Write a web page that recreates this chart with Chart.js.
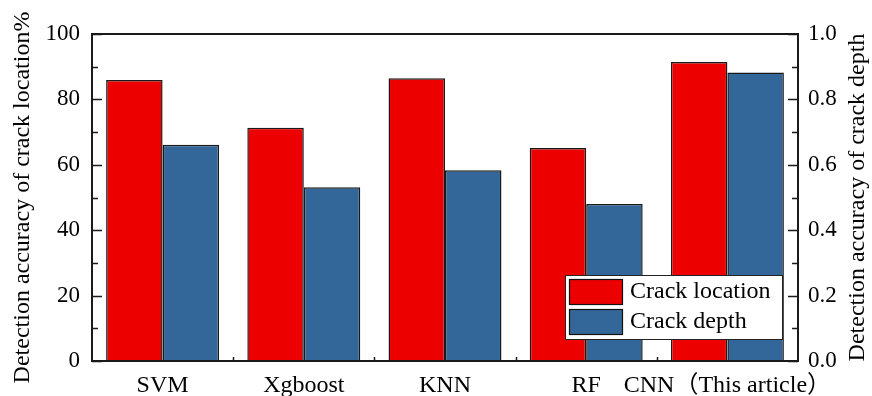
<!DOCTYPE html>
<html>
<head>
<meta charset="utf-8">
<script src="https://cdn.jsdelivr.net/npm/chart.js@4.4.1/dist/chart.umd.min.js"></script>
<style>
html,body{margin:0;padding:0;background:#fff;}
#wrap{width:872px;height:396px;position:relative;}
</style>
</head>
<body>
<div id="wrap"><canvas id="c" width="872" height="396"></canvas></div>
<script>
const categories = ["SVM", "Xgboost", "KNN", "RF", "CNN（This article）"];
const crackLocation = [85.9, 71.3, 86.5, 65.1, 91.4];
const crackDepth = [0.661, 0.531, 0.583, 0.480, 0.882];
const seriesNames = ["Crack location", "Crack depth"];
const leftTitle = "Detection accuracy of crack location%";
const rightTitle = "Detection accuracy of crack depth";

const FONT = "'Liberation Serif', 'Times New Roman', 'Noto Sans CJK SC', serif";
const RED = "rgb(236,0,0)";
const BLUE = "rgb(51,102,153)";

const framePlugin = {
  id: 'frame',
  afterDatasetsDraw(chart) {
    const ctx = chart.ctx;
    const a = chart.chartArea;
    const y = chart.scales.y, y1 = chart.scales.y1, x = chart.scales.x;
    ctx.save();
    ctx.strokeStyle = '#1a1a1a';
    ctx.lineWidth = 2;
    ctx.strokeRect(a.left, a.top, a.right - a.left, a.bottom - a.top);
    ctx.lineWidth = 1.5;
    ctx.beginPath();
    for (let v = 0; v <= 100; v += 10) {
      const p = Math.round(y.getPixelForValue(v)) + 0.5;
      const len = (v % 20 === 0) ? 10 : 6;
      ctx.moveTo(a.left, p); ctx.lineTo(a.left + len, p);
    }
    for (let k = 0; k <= 10; k++) {
      const p = Math.round(y1.getPixelForValue(k / 10)) + 0.5;
      const len = (k % 2 === 0) ? 10 : 6;
      ctx.moveTo(a.right, p); ctx.lineTo(a.right - len, p);
    }
    for (let i = 0; i < categories.length - 1; i++) {
      const p = Math.round((x.getPixelForValue(i) + x.getPixelForValue(i + 1)) / 2) + 0.5;
      ctx.moveTo(p, a.bottom); ctx.lineTo(p, a.bottom - 4);
    }
    ctx.stroke();

    // legend
    const lx = a.right - 233, ly = a.bottom - 86;
    ctx.fillStyle = '#fff';
    ctx.fillRect(lx, ly, 217, 64);
    ctx.lineWidth = 1;
    ctx.strokeStyle = '#222';
    ctx.strokeRect(lx + 0.5, ly + 0.5, 217, 64);
    chart.data.datasets.forEach((ds, i) => {
      const sy = ly + 4 + i * 30;
      ctx.fillStyle = ds.backgroundColor;
      ctx.fillRect(lx + 4, sy, 53, 25);
      ctx.strokeStyle = '#111';
      ctx.lineWidth = 1.2;
      ctx.strokeRect(lx + 4.5, sy + 0.5, 53, 25);
      ctx.fillStyle = '#000';
      ctx.font = '24px ' + FONT;
      ctx.textAlign = 'left';
      ctx.textBaseline = 'middle';
      ctx.fillText(ds.label, lx + 65, sy + 13);
    });

    // right title (reads bottom to top)
    ctx.save();
    ctx.translate(858, (a.top + a.bottom) / 2);
    ctx.rotate(-Math.PI / 2);
    ctx.font = '24px ' + FONT;
    ctx.fillStyle = '#000';
    ctx.textAlign = 'center';
    ctx.textBaseline = 'middle';
    ctx.fillText(rightTitle, 0, 0);
    ctx.restore();
    ctx.restore();
  }
};

new Chart(document.getElementById('c'), {
  type: 'bar',
  data: {
    labels: categories,
    datasets: [
      { label: seriesNames[0], data: crackLocation, yAxisID: 'y', backgroundColor: RED, borderColor: '#1a1a1a', borderWidth: 1.5, categoryPercentage: 0.8, barPercentage: 1.0 },
      { label: seriesNames[1], data: crackDepth, yAxisID: 'y1', backgroundColor: BLUE, borderColor: '#1a1a1a', borderWidth: 1.5, categoryPercentage: 0.8, barPercentage: 1.0 }
    ]
  },
  options: {
    responsive: false,
    animation: false,
    layout: { padding: { top: 34, right: 0, bottom: 0, left: 0 } },
    plugins: { legend: { display: false }, tooltip: { enabled: false } },
    scales: {
      x: {
        grid: { display: false, drawTicks: false },
        border: { display: false },
        ticks: { color: '#000', font: { family: FONT, size: 24 }, padding: 10, maxRotation: 0, autoSkip: false },
        afterFit(s) { s.height = 35; }
      },
      y: {
        position: 'left', min: 0, max: 100,
        grid: { display: false, drawTicks: false },
        border: { display: false },
        ticks: { stepSize: 20, color: '#000', font: { family: FONT, size: 23 }, padding: 12 },
        title: { display: true, text: leftTitle, color: '#000', font: { family: FONT, size: 24 }, padding: { top: 8, bottom: 0 } },
        afterFit(s) { s.width = 92; }
      },
      y1: {
        position: 'right', min: 0, max: 1,
        grid: { display: false, drawTicks: false },
        border: { display: false },
        ticks: { stepSize: 0.2, color: '#000', font: { family: FONT, size: 23 }, padding: 10, callback: v => Number(v).toFixed(1) },
        afterFit(s) { s.width = 74; }
      }
    }
  },
  plugins: [framePlugin]
});
</script>
</body>
</html>
